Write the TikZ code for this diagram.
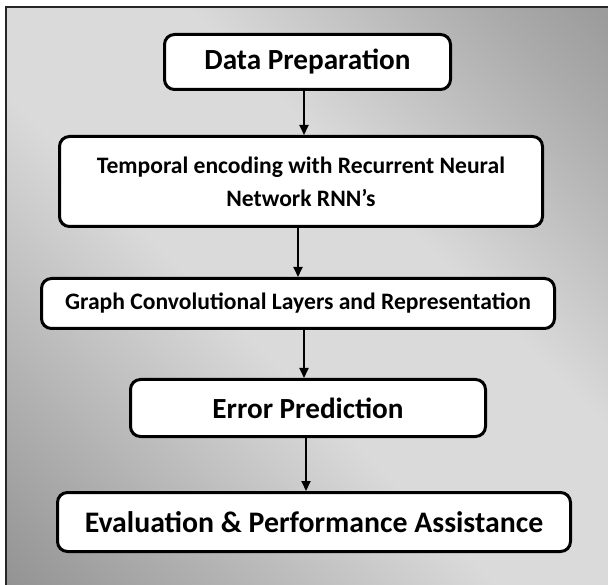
\documentclass[tikz,border=0pt]{standalone}
\usepackage{fontspec}
\setmainfont{Carlito}
\usetikzlibrary{arrows.meta,calc}
\definecolor{bgdark}{HTML}{6A6A6A}
\definecolor{bgdark2}{HTML}{727272}
\definecolor{bgmid}{HTML}{ACACAC}
\definecolor{bglight}{HTML}{DADADA}
\pgfdeclareverticalshading{bgsh}{100bp}{color(0bp)=(bgdark); color(14bp)=(bgdark);
  color(33bp)=(bgmid); color(46bp)=(bglight); color(57bp)=(bglight);
  color(69bp)=(bgmid); color(86bp)=(bgdark2); color(100bp)=(bgdark2)}
\begin{document}
\begin{tikzpicture}[x=1pt,y=-1pt,
  stepbox/.style={draw=black, line width=3pt, fill=white, rounded corners=10pt,
    inner sep=0pt, align=center, font=\bfseries},
  arr/.style={draw=black, line width=2pt, -{Triangle[length=10pt,width=9pt]}}]
\useasboundingbox (0,0) rectangle (608,585);
\begin{scope}
  \clip (6,7) rectangle (608,585);
  \begin{scope}[transform canvas={rotate around={-45:(309,298)}}]
    \shade[shading=bgsh] (-121,-132) rectangle (739,728);
  \end{scope}
\end{scope}
\draw[line width=1.6pt, black!85] (6,592) -- (6,7) -- (612,7);
\node[stepbox, minimum width=286pt, minimum height=55pt,
  font=\bfseries\fontsize{29.2}{34}\selectfont] (b1) at (307.5,62) {Data Preparation};
\node[stepbox, minimum width=483pt, minimum height=90pt,
  font=\bfseries\fontsize{23.6}{33}\selectfont] (b2) at (301,181.5)
  {Temporal encoding with Recurrent Neural\\Network RNN’s};
\node[stepbox, minimum width=513pt, minimum height=50pt,
  font=\bfseries\fontsize{23.6}{28}\selectfont] (b3) at (298,303.5)
  {Graph Convolutional Layers and Representation};
\node[stepbox, minimum width=355pt, minimum height=57pt,
  font=\bfseries\fontsize{29.2}{34}\selectfont] (b4) at (308,408) {Error Prediction};
\node[stepbox, minimum width=513pt, minimum height=59pt,
  font=\bfseries\fontsize{29.8}{34}\selectfont] (b5) at (314,522)
  {Evaluation \& Performance Assistance};
\coordinate (a1) at ($(b1.south)+(-3.5,0)$);
\coordinate (a2) at ($(b2.south)+(-3,0)$);
\coordinate (a3) at ($(b3.south)+(6,0)$);
\coordinate (a4) at ($(b4.south)+(-2,0)$);
\draw[arr] (a1) -- (a1 |- b2.north);
\draw[arr] (a2) -- (a2 |- b3.north);
\draw[arr] (a3) -- (a3 |- b4.north);
\draw[arr] (a4) -- (a4 |- b5.north);
\end{tikzpicture}
\end{document}
